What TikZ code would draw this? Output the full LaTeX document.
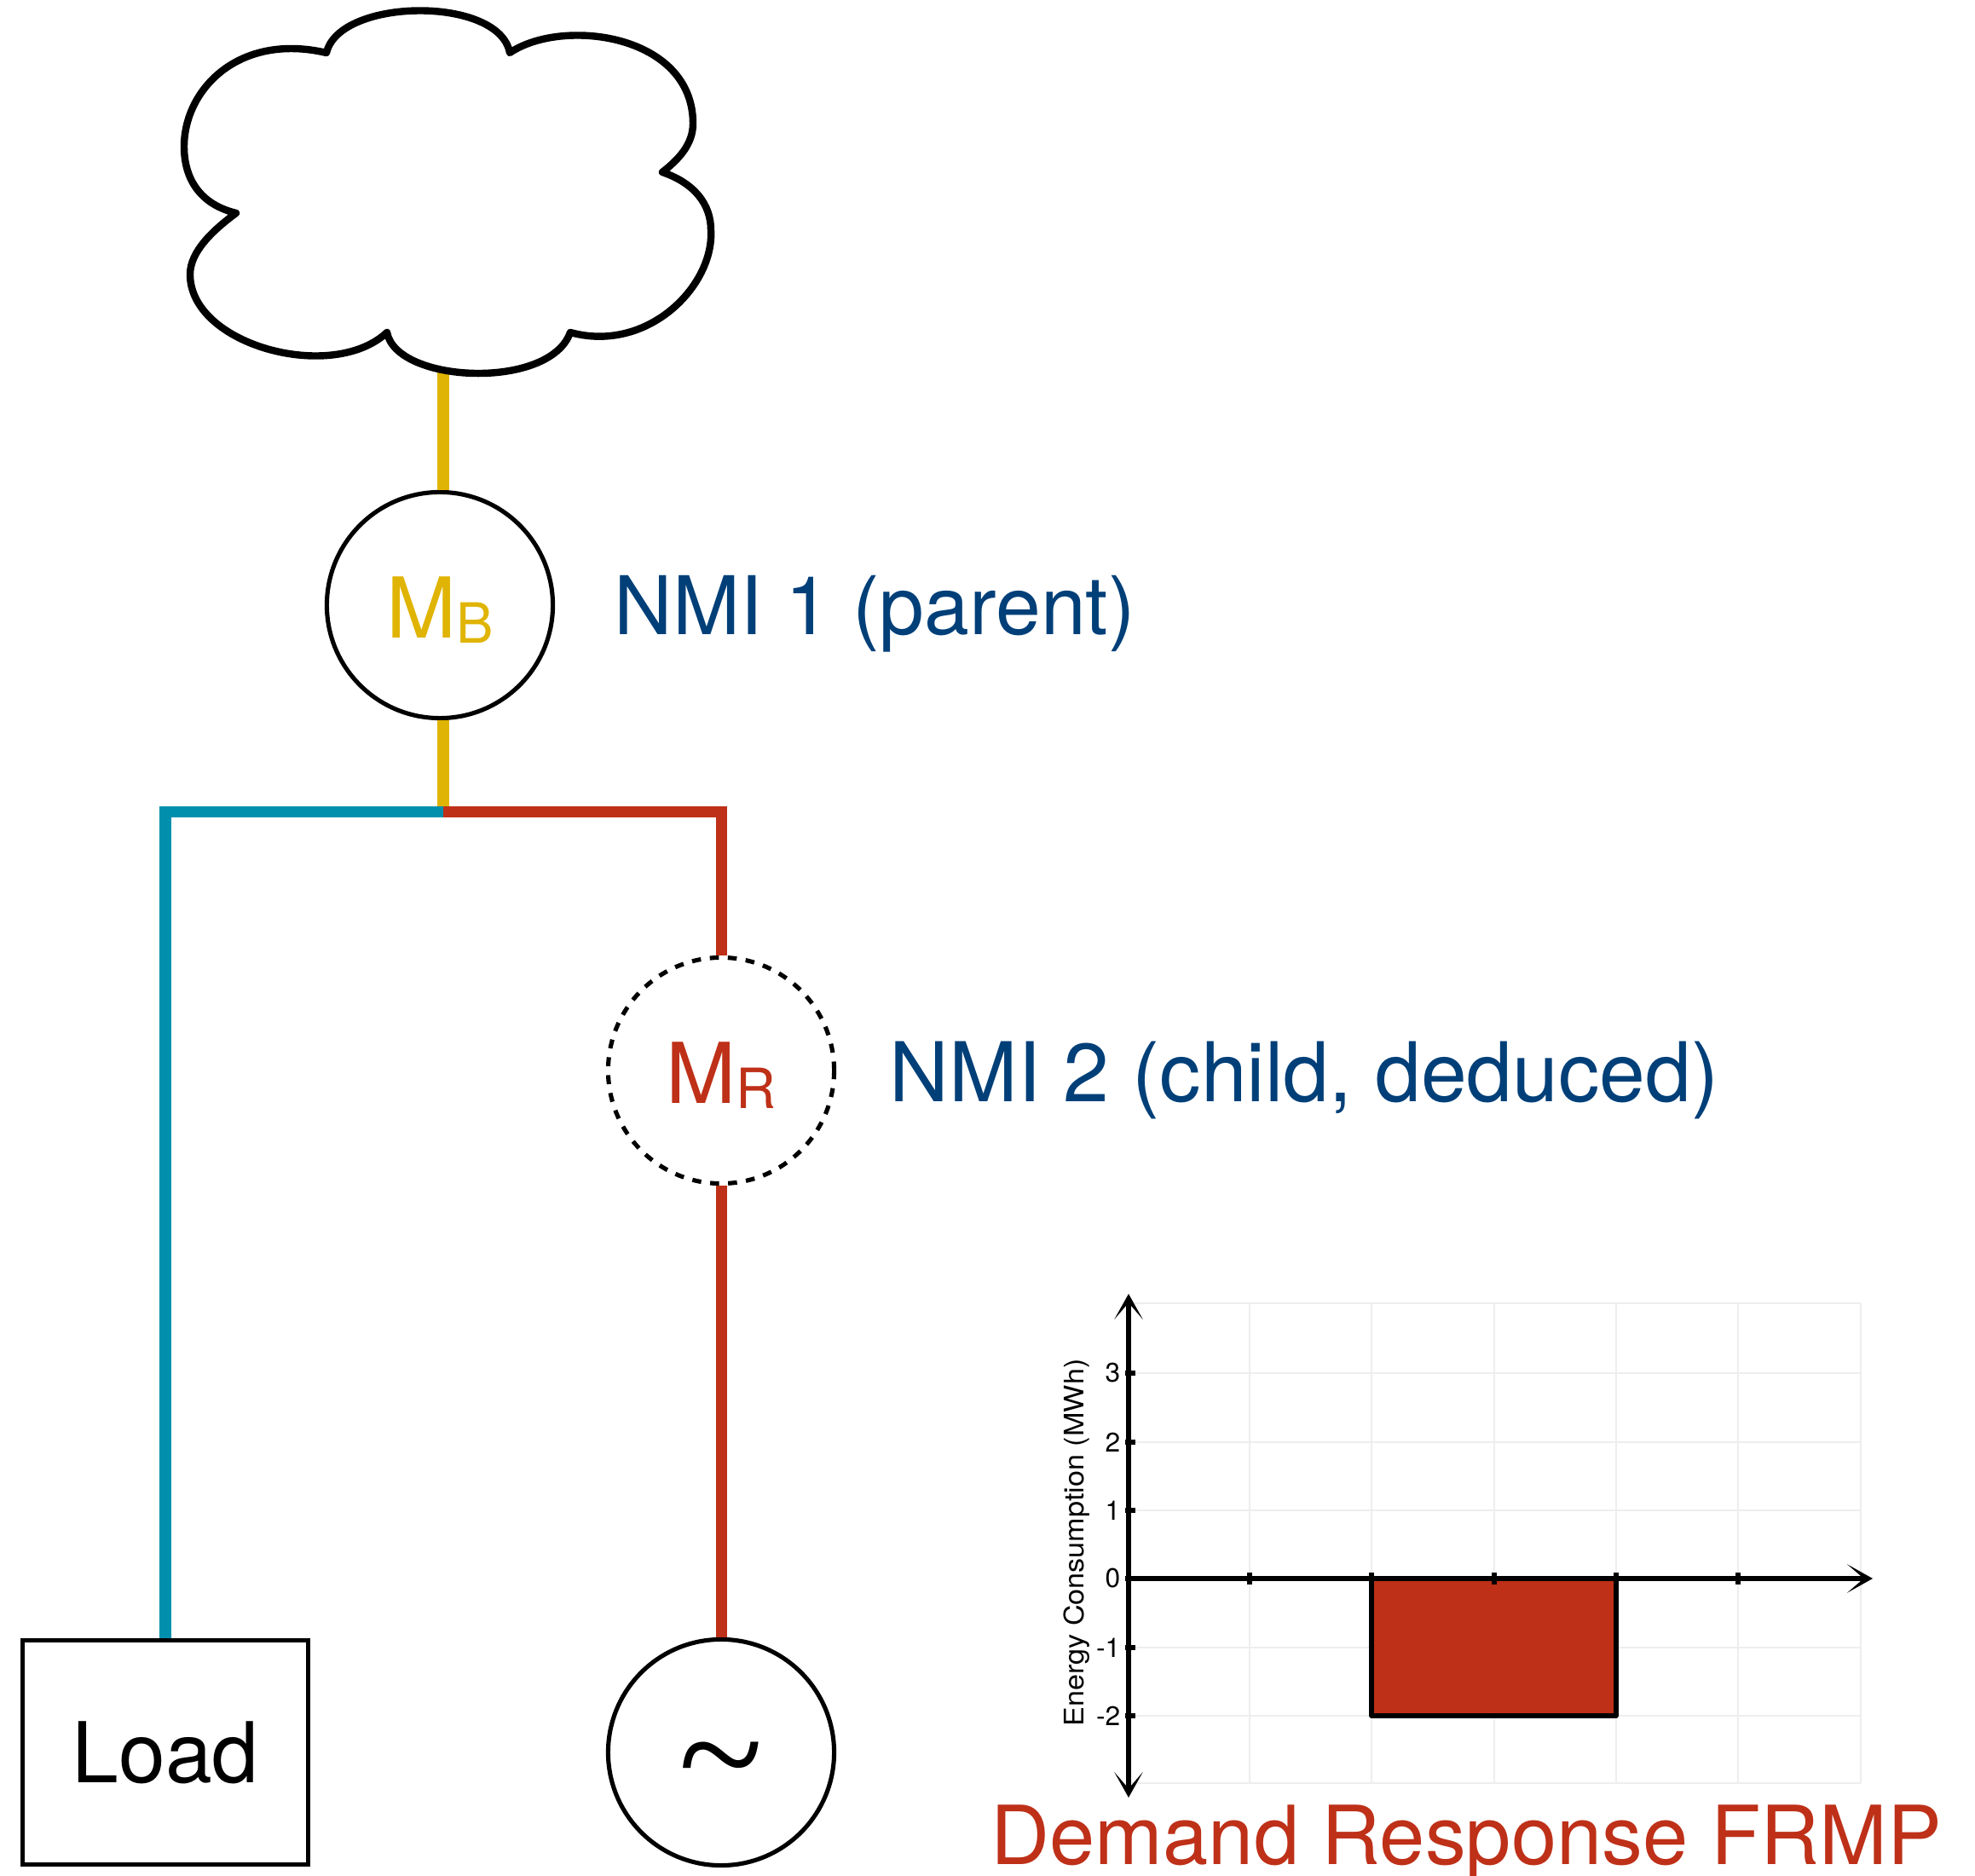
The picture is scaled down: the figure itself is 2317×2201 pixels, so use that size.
\documentclass[tikz,border=0pt]{standalone}
\usepackage{fontspec}
\setmainfont{TeX Gyre Heros}
\newfontfamily\tildefont{Liberation Serif}
\usetikzlibrary{positioning}
\usetikzlibrary{arrows.meta}
\definecolor{meteryellow}{HTML}{E0B404}
\definecolor{loadteal}{HTML}{0090AD}
\definecolor{frmpred}{HTML}{BE3018}
\definecolor{nmiblue}{HTML}{003F78}
\definecolor{gridgray}{HTML}{EEEEEE}
\newcommand{\bigtext}{\fontsize{27.2}{30}\selectfont}
\newcommand{\smalltext}{\fontsize{9}{10}\selectfont}
\newcommand{\metername}[2]{\rule{0pt}{23.4pt}\fontsize{28}{30}\selectfont M\raisebox{-0.06em}{\fontsize{18.5}{20}\selectfont #2}}
\newcommand{\chartleft}{1324}
\newcommand{\chartright}{2183}
\newcommand{\charttop}{1529}
\newcommand{\chartbottom}{2092}
\newcommand{\chartzero}{1852}
\tikzset{
    wire/.style={line width=3.7pt},
    meter/.style={circle, draw=black, fill=white, line width=1.45pt, minimum size=2.65cm, inner sep=0pt},
    label text/.style={text=nmiblue, anchor=base west, inner sep=0pt},
    axis line/.style={line width=1.5pt, >={Stealth[length=8.5pt,width=9.5pt,inset=5.5pt]}},
    tick line/.style={line width=1.5pt},
    tick text/.style={anchor=east, inner sep=0pt, font=\smalltext},
}

\begin{document}
\begin{tikzpicture}[x=0.01cm, y=-0.01cm]
\useasboundingbox (0,0) rectangle (2317,2201);

\coordinate (cloudbase) at (520,430);
\coordinate (junction) at (520,953);

\node[meter] at (516,710) (mb) {\color{meteryellow}\metername{M}{B}};
\node[meter, dashed, dash pattern=on 3pt off 3pt] at (846,1256) (mr) {\color{frmpred}\metername{M}{R}};
\node[meter] at (846,2056) (gen) {\smash{\raisebox{-18pt}{\fontsize{52}{52}\tildefont\selectfont\char`\~}}};
\node[draw, line width=1.45pt, minimum width=3.34cm, minimum height=2.62cm, inner sep=0pt] at (194,2056) (load) {\fontsize{28}{30}\selectfont Load};

\node[label text] at (720,745) (nmione) {\fontsize{27}{30}\selectfont NMI 1 (parent)};
\node[label text] at (1043,1293) (nmitwo) {\fontsize{27.5}{30}\selectfont NMI 2 (child, deduced)};
\node[text=frmpred, anchor=base west, inner sep=0pt] at (1162,2187) (frmp) {\bigtext Demand Response FRMP};

\draw[wire, meteryellow] (cloudbase) -- (cloudbase |- mb.north);
\draw[wire, meteryellow] (junction |- mb.south) -- (junction);
\draw[wire, loadteal] (junction) -| (load.north);
\draw[wire, frmpred] (junction) -| (mr.north);
\draw[wire, frmpred] (mr.south) -- (gen.north);

% cloud
\filldraw[color=black, fill=white, line width=2.4pt, line join=round]
    (277,250) .. controls (235,240) and (216,210) .. (216,172)
    .. controls (216,105) and (280,38) .. (383,62)
    .. controls (398,-3) and (586,-5) .. (598,62)
    .. controls (660,20) and (813,40) .. (813,145)
    .. controls (813,170) and (795,188) .. (777,202)
    .. controls (815,215) and (834,240) .. (834,270)
    .. controls (838,335) and (760,415) .. (669,390)
    .. controls (645,458) and (465,450) .. (454,390)
    .. controls (390,450) and (223,405) .. (223,322)
    .. controls (223,295) and (250,270) .. (277,250) -- cycle;

% chart
\begin{scope}
    \foreach \gx in {1466,1609,1753,1896,2039,2183}
        \draw[gridgray, line width=0.45pt] (\gx,\charttop) -- (\gx,\chartbottom);
    \foreach \gy in {1529,1611,1692,1772,1933,2013,2092}
        \draw[gridgray, line width=0.45pt] (\chartleft,\gy) -- (\chartright,\gy);
    \filldraw[draw=black, fill=frmpred, line width=1.5pt, line join=round] (1609,\chartzero) rectangle (1896,2013);

    \coordinate (ytop) at (\chartleft,1518);
    \coordinate (ybottom) at (\chartleft,2109);
    \coordinate (xleft) at (\chartleft,\chartzero);
    \coordinate (xright) at (2197,\chartzero);
    \draw[axis line, <->] (ybottom) -- (ytop);
    \draw[axis line, ->] (xleft) -- (xright);

    \foreach \gx in {1466,1609,1753,1896,2039}
        \draw[tick line] (\gx,\chartzero-7) -- (\gx,\chartzero+7);
    \foreach \gy/\val in {1611/3,1692/2,1772/1,1852/0,1933/-1,2013/-2} {
        \draw[tick line] (\chartleft-4,\gy) -- (\chartleft+8,\gy);
        \node[tick text] at (1315,\gy) (tick\val) {\val};
    }
    \node[rotate=90, xscale=1.08, inner sep=0pt, font=\smalltext] at (1263,1810) (ylabel) {Energy Consumption (MWh)};
\end{scope}

\end{tikzpicture}
\end{document}
